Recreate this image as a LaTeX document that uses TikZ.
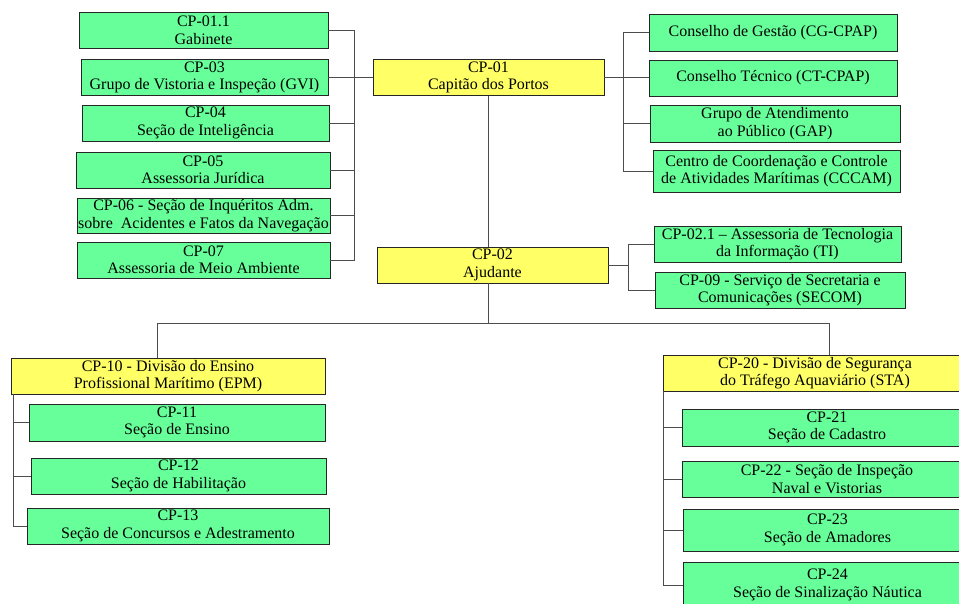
\documentclass[tikz,border=0pt]{standalone}
\usepackage{fontspec}
\setmainfont{Liberation Serif}
\definecolor{unitgreen}{HTML}{66FF99}
\definecolor{chiefyellow}{HTML}{FFFF66}

\begin{document}
\begin{tikzpicture}[x=1pt,y=-1pt,
  box/.style={draw=black!85,line width=0.9pt,align=center,inner sep=0pt,minimum height=36pt,font=\fontsize{16}{17.5}\selectfont},
  unitbox/.style={box,fill=unitgreen},
  chiefbox/.style={box,fill=chiefyellow},
  link/.style={draw=black!70,line width=1pt}]
\useasboundingbox (0,0) rectangle (959,603);
\clip (0,0) rectangle (959,603);
\node[unitbox,minimum width=249pt] (cp011) at (203.5,30.5) {CP-01.1\\Gabinete};
\node[unitbox,minimum width=247pt] (cp03) at (204.5,77.5) {CP-03\\Grupo de Vistoria e Inspeção (GVI)};
\node[unitbox,minimum width=247pt] (cp04) at (205.5,123) {CP-04\\Seção de Inteligência};
\node[unitbox,minimum width=254pt] (cp05) at (203,170) {CP-05\\Assessoria Jurídica};
\node[unitbox,minimum width=253pt,minimum height=35pt] (cp06) at (203.5,215.5) {CP-06 - Seção de Inquéritos Adm.\\sobre~ Acidentes e Fatos da Navegação};
\node[unitbox,minimum width=253pt] (cp07) at (203.5,260) {CP-07\\Assessoria de Meio Ambiente};
\node[chiefbox,minimum width=231pt] (cp01) at (488.5,77.5) {CP-01\\Capitão dos Portos};
\node[chiefbox,minimum width=231pt] (cp02) at (492.5,265) {CP-02\\Ajudante};
\node[unitbox,minimum width=248pt,minimum height=37pt] (cg) at (773,32.5) {Conselho de Gestão (CG-CPAP)};
\node[unitbox,minimum width=248pt] (ct) at (773,78) {Conselho Técnico (CT-CPAP)};
\node[unitbox,minimum width=250pt,minimum height=37pt] (gap) at (775,123.5) {Grupo de Atendimento\\ao Público (GAP)};
\node[unitbox,minimum width=247pt,minimum height=42pt] (cccam) at (776.5,171) {Centro de Coordenação e Controle\\de Atividades Marítimas (CCCAM)};
\node[unitbox,minimum width=247pt] (ti) at (777.5,244) {CP-02.1 – Assessoria de Tecnologia\\da Informação (TI)};
\node[unitbox,minimum width=250pt] (secom) at (780,290) {CP-09 - Serviço de Secretaria e\\Comunicações (SECOM)};
\node[chiefbox,minimum width=314pt] (cp10) at (168,376) {CP-10 - Divisão do Ensino\\Profissional Marítimo (EPM)};
\node[unitbox,minimum width=296pt,minimum height=37pt] (cp11) at (177,422.5) {CP-11\\Seção de Ensino};
\node[unitbox,minimum width=295pt] (cp12) at (178.5,476) {CP-12\\Seção de Habilitação};
\node[unitbox,minimum width=302pt] (cp13) at (178,526) {CP-13\\Seção de Concursos e Adestramento};
\node[chiefbox,minimum width=304pt] (cp20) at (815,373) {CP-20 - Divisão de Segurança\\do Tráfego Aquaviário (STA)};
\node[unitbox,minimum width=290pt,minimum height=37pt] (cp21) at (827,427.5) {CP-21\\Seção de Cadastro};
\node[unitbox,minimum width=290pt] (cp22) at (827,479) {CP-22 - Seção de Inspeção\\Naval e Vistorias};
\node[unitbox,minimum width=289pt,minimum height=42pt] (cp23) at (827.5,530) {CP-23\\Seção de Amadores};
\node[unitbox,minimum width=289pt,minimum height=46pt] (cp24) at (827.5,585) {CP-24\\Seção de Sinalização Náutica};
\coordinate (lbus) at (354,0);
\coordinate (rbus) at (623,0);
\coordinate (abus) at (628,0);
\coordinate (ebus) at (13,0);
\coordinate (sbus) at (663,0);
\coordinate (hl) at (157,323);
\coordinate (hr) at (829,323);
\draw[link] (cp011.east) -- (cp011.east -| lbus) -- (cp07.east -| lbus) -- (cp07.east);
\foreach \n in {cp03,cp04,cp05,cp06}
  \draw[link] (\n.east) -- (\n.east -| lbus);
\draw[link] (cp03.east -| lbus) -- (cp01.west);
\draw[link] (cg.west) -- (cg.west -| rbus) -- (cccam.west -| rbus) -- (cccam.west);
\draw[link] (gap.west) -- (gap.west -| rbus);
\draw[link] (cp01.east) -- (cp01.east -| ct.west);
\draw[link] (cp01.south) -- (cp01.south |- cp02.north);
\draw[link] (ti.west) -- (ti.west -| abus) -- (secom.west -| abus) -- (secom.west);
\draw[link] (cp02.east) -- (cp02.east -| abus);
\draw[link] (cp01.south |- cp02.south) -- (cp01.south |- hl);
\draw[link] (hl) -- (hr);
\draw[link] (hl) -- (hl |- cp10.north);
\draw[link] (hr) -- (hr |- cp20.north);
\draw[link] (cp10.south -| ebus) -- (cp13.west -| ebus) -- (cp13.west);
\foreach \n in {cp11,cp12}
  \draw[link] (\n.west) -- (\n.west -| ebus);
\draw[link] (cp20.south -| sbus) -- (cp24.west -| sbus) -- (cp24.west);
\foreach \n in {cp21,cp22,cp23}
  \draw[link] (\n.west) -- (\n.west -| sbus);
\end{tikzpicture}
\end{document}
